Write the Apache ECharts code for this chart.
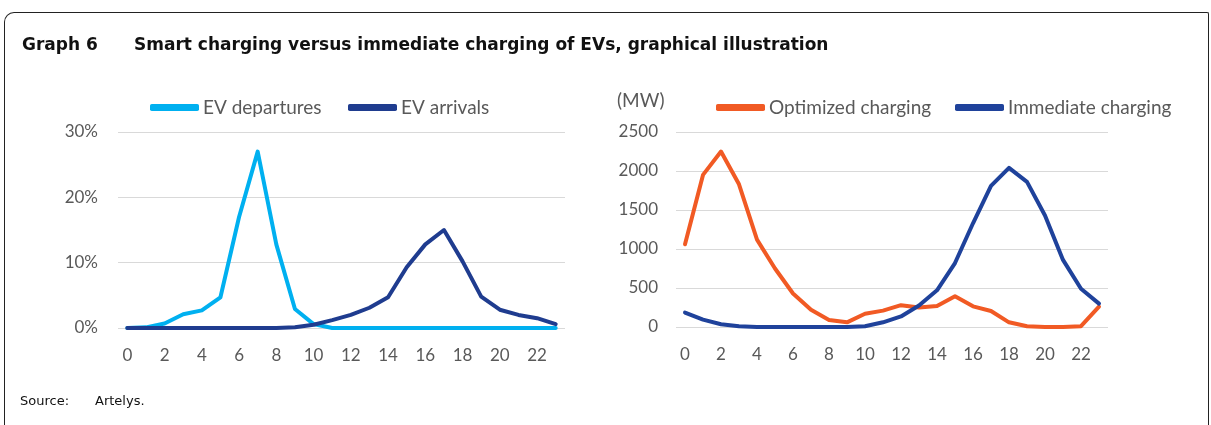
<!DOCTYPE html>
<html>
<head>
<meta charset="utf-8">
<script src="https://cdn.jsdelivr.net/npm/echarts@6/dist/echarts.min.js"></script>
<style>
  html, body { margin: 0; padding: 0; background: #fff; }
  .frame {
    position: absolute; left: 4px; top: 12px; width: 1205px; height: 430px;
    border: 1.5px solid #222; border-bottom: none;
    border-top-left-radius: 10px; border-top-right-radius: 2px;
    box-sizing: border-box;
  }
  #chart { position: absolute; left: 0; top: 0; width: 1211px; height: 425px; }
</style>
</head>
<body>
<div class="frame"></div>
<div id="chart"></div>
<script>
// hours of the day
const hours = ['0','1','2','3','4','5','6','7','8','9','10','11','12','13','14','15','16','17','18','19','20','21','22','23']

// left panel, share of EVs (%)
const evDepartures = [0, 0.1, 0.7, 2.1, 2.7, 4.7, 17, 27, 12.8, 2.9, 0.6, 0, 0, 0, 0, 0, 0, 0, 0, 0, 0, 0, 0, 0]
const evArrivals = [0, 0, 0, 0, 0, 0, 0, 0, 0, 0.1, 0.5, 1.2, 2.0, 3.1, 4.7, 9.3, 12.8, 15.0, 10.2, 4.8, 2.8, 2.0, 1.5, 0.6]

// right panel, charging load (MW)
const optimizedCharging = [1060, 1950, 2250, 1830, 1120, 750, 430, 220, 90, 60, 170, 210, 280, 250, 270, 395, 265, 205, 60, 10, 0, 0, 10, 260]
const immediateCharging = [185, 95, 35, 10, 0, 0, 0, 0, 0, 0, 10, 60, 135, 275, 470, 820, 1330, 1810, 2040, 1860, 1430, 860, 490, 300]

const labelColor = '#595959'
const chartFont = 'Lato'
const docFont = 'DejaVu Sans'

const chart = echarts.init(document.getElementById('chart'))

function xAxisOf(gridIndex) {
  return {
    type: 'category',
    gridIndex: gridIndex,
    data: hours,
    boundaryGap: true,
    axisLine: { show: false },
    axisTick: { show: false },
    axisLabel: { interval: 1, color: labelColor, fontSize: 17, fontFamily: chartFont, margin: 19 },
  }
}

function lineOf(name, data, color, axisIdx) {
  return {
    name: name,
    type: 'line',
    xAxisIndex: axisIdx,
    yAxisIndex: axisIdx,
    data: data,
    showSymbol: false,
    symbol: 'none',
    lineStyle: { color: color, width: 4, cap: 'round', join: 'round' },
    itemStyle: { color: color },
  }
}

function legendOf(name, x) {
  return {
    left: x, top: 98, padding: 0,
    itemWidth: 49, itemHeight: 7,
    icon: 'roundRect',
    data: [name],
    textStyle: { color: labelColor, fontSize: 19, fontFamily: chartFont, padding: [0, 0, 0, -1] },
  }
}

function docTitle(text, x, y, size, weight) {
  return {
    text: text, left: x, top: y, padding: 0,
    textStyle: { fontFamily: docFont, fontWeight: weight, fontSize: size, color: '#111' },
  }
}

chart.setOption({
  animation: false,
  title: [
    docTitle('Graph 6', 22, 37, 17, 'bold'),
    docTitle('Smart charging versus immediate charging of EVs, graphical illustration', 134, 37, 17, 'bold'),
    docTitle('Source:', 20, 395, 13, 'normal'),
    docTitle('Artelys.', 95, 395, 13, 'normal'),
    {
      text: '(MW)', left: 617, top: 91, padding: 0,
      textStyle: { fontFamily: chartFont, fontWeight: 'normal', fontSize: 19, color: labelColor },
    },
  ],
  legend: [
    legendOf('EV departures', 150),
    legendOf('EV arrivals', 348),
    legendOf('Optimized charging', 716),
    legendOf('Immediate charging', 955),
  ],
  grid: [
    { left: 118, top: 132, width: 447, height: 196, containLabel: false },
    { left: 676, top: 132, width: 432, height: 195, containLabel: false },
  ],
  xAxis: [xAxisOf(0), xAxisOf(1)],
  yAxis: [
    {
      type: 'value', gridIndex: 0, min: 0, max: 30, interval: 10,
      axisLabel: { formatter: '{value}%', color: labelColor, fontSize: 17, fontFamily: chartFont, margin: 20 },
      splitLine: { lineStyle: { color: '#D9D9D9', width: 1 } },
      axisLine: { show: false }, axisTick: { show: false },
    },
    {
      type: 'value', gridIndex: 1, min: 0, max: 2500, interval: 500,
      axisLabel: { formatter: v => String(v), color: labelColor, fontSize: 17, fontFamily: chartFont, margin: 18 },
      splitLine: { lineStyle: { color: '#D9D9D9', width: 1 } },
      axisLine: { show: false }, axisTick: { show: false },
    },
  ],
  series: [
    lineOf('EV departures', evDepartures, '#00B0F0', 0),
    lineOf('EV arrivals', evArrivals, '#1F3C8F', 0),
    lineOf('Optimized charging', optimizedCharging, '#F15A24', 1),
    lineOf('Immediate charging', immediateCharging, '#1F429B', 1),
  ],
})
</script>
</body>
</html>
